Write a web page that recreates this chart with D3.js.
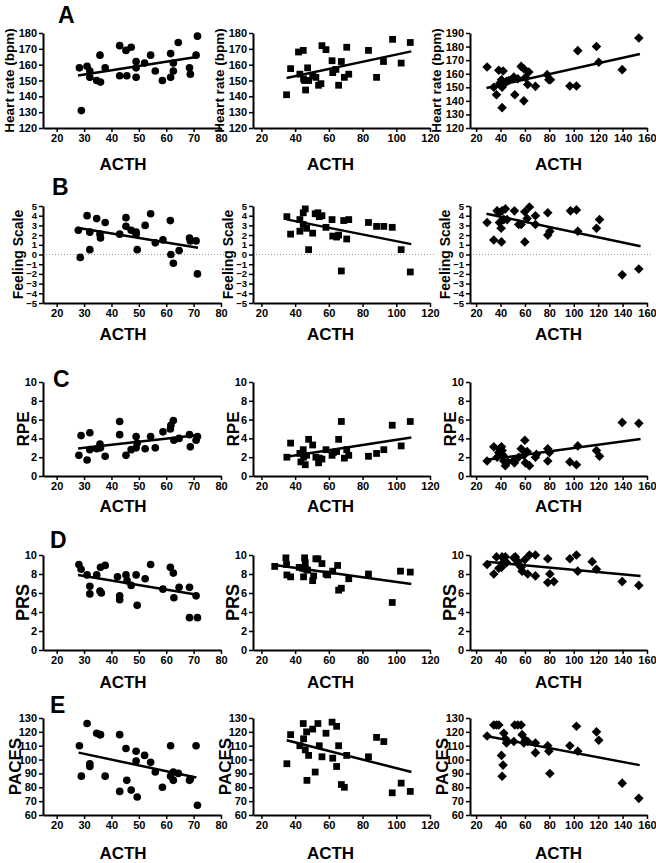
<!DOCTYPE html>
<html>
<head>
<meta charset="utf-8">
<script src="https://cdn.jsdelivr.net/npm/d3@7"></script>
<style>
body { margin: 0; background: #fff; }
text { font-family: "Liberation Sans", Arial, sans-serif; font-weight: bold; fill: #000; }
</style>
</head>
<body>
<svg id="chart" width="656" height="863"></svg>
<script>
// ---- data: [ACTH, value] per panel ----
const hrCircle = [[28.3,158],[29,131],[31.1,159],[32.1,156],[32.1,152],[34.6,150],[35.8,166],[36,149],[37.7,158],[43,172],[43,153],[45.3,169],[45.6,153],[47.2,171],[49,162],[49,158],[49,152],[52.1,161],[54.3,166],[56,156],[58.6,150],[61.6,167],[61.6,152],[62.6,161],[62.6,156],[64.4,174],[68.5,158],[68.8,154],[70.9,166],[71.4,178]];
const hrSquare = [[34.9,141],[37.3,157.5],[42,168],[42.8,154],[44.8,169],[45,151],[45.6,150],[46.2,144],[47.4,158],[48,150],[50.4,153],[52.3,152],[53.9,147],[55.3,148],[55.9,172],[58.3,169.5],[61.9,162.5],[62.3,155],[64.2,157],[65.8,147],[67.4,162],[69.2,152],[70.6,171],[71.8,154],[83.5,169],[88.3,152],[92.4,162],[97.8,176],[102.9,161],[108.3,174]];
const hrDiamond = [[29,165],[34.5,150],[36.7,144.5],[38.6,162.5],[39.4,153],[40.8,155.6],[41.3,135],[41.3,150],[42.1,162],[42.7,152],[44.9,154.4],[46.8,155],[51.7,144.5],[50.9,157.6],[54.2,156.3],[56.9,165.4],[59.1,163.7],[59.1,140],[60.4,157.3],[62.3,152],[63.2,161.3],[68.6,150.7],[78.2,159.3],[79.6,155.6],[80.9,155.6],[96.8,151],[102.2,151],[103.3,177],[118.6,180],[120.5,168.4],[139.7,163],[153.3,186.3]];

const fsCircle = [[27.9,2.5],[28.6,-0.3],[31.1,4],[32.1,2.3],[32.1,0.5],[34.6,3.7],[35.8,2.1],[36,1.7],[37.7,3.3],[43,2.1],[45.3,3.8],[45.3,2.9],[47.2,2.5],[49,2.3],[49,2.1],[49.4,0.5],[52.3,3],[54.3,4.2],[56,1.2],[58.8,1.5],[61.5,3.5],[61.7,0],[62.6,-0.9],[64.7,0.4],[68.5,1.7],[68.8,1.4],[70.9,1.4],[71.4,-2]];
const fsSquare = [[35.1,3.9],[37.3,2.1],[42.8,3.6],[42.8,2.4],[44.8,3.1],[44.8,4.3],[46,4.7],[46.8,2.7],[48,0.5],[50.4,2.2],[51.9,4.2],[53.5,4.3],[54.3,3.9],[55.9,4],[58.3,2.8],[61.9,3.6],[62.3,1.9],[64.6,1.8],[65.8,2],[67.4,-1.7],[68.8,3.5],[70.6,1.6],[71.8,3.6],[83.5,3.3],[88.3,2.9],[92.6,2.9],[97.6,2.8],[102.9,0.5],[108.3,-1.8]];
const fsDiamond = [[29,3.3],[34.5,1.5],[37.2,4.5],[38.6,4.3],[39.1,3.3],[40.5,2.7],[40.8,1.3],[41.3,4.5],[42.7,3.6],[44,4.7],[45.4,3.6],[51.4,4.5],[54.9,3.1],[56.9,3.1],[59.9,4.4],[59.9,1.3],[61.8,3.7],[63.7,4.9],[68.6,4],[68.6,3.1],[78.7,4.3],[78.7,2],[80.4,2.4],[97.3,4.5],[102.2,4.6],[103.3,2.4],[118.6,2.7],[121.1,3.6],[139.7,-2.1],[153.3,-1.5]];

const rpeCircle = [[28.1,2.2],[28.9,4.3],[31.1,1.7],[32.1,4.6],[32.1,2.8],[34.6,2.9],[35.8,3.4],[36,3],[37.7,2.1],[43,5.8],[43,4.4],[45.3,2.2],[47.2,2.8],[49,4.2],[49,3],[49.4,3.5],[52.3,2.9],[54.3,4.2],[56,3],[58.8,4.7],[61.5,5],[61.7,5.4],[62.6,5.9],[62.8,3.8],[64.7,4],[68.5,4.4],[68.8,3.1],[70.9,3.8],[71.4,4.2]];
const rpeSquare = [[35.1,2],[37.3,3.5],[42.8,2.4],[43.4,1.5],[44.8,2.8],[45,2],[46,1.2],[46.8,2.2],[48,3.9],[50.4,3.3],[52.3,2],[53.9,1.4],[54.3,1.9],[55.9,1.8],[58.3,2.8],[61.9,2.2],[62.7,2.5],[64.6,2.6],[65.8,3.9],[67.4,5.8],[69.2,1.9],[70.6,2.8],[71.8,2.2],[83.5,2.1],[88.3,2.4],[92.6,2.8],[97.6,5.4],[102.9,3.2],[108.3,5.8]];
const rpeDiamond = [[29,1.6],[34.5,3.1],[37.2,2],[38.6,2.5],[39.4,2.9],[40.8,3.1],[41.3,2.7],[42.1,2.2],[42.7,1.6],[44,1.1],[45.9,1.5],[50.3,1.6],[51.4,1.4],[54.9,2],[56.9,2.9],[59.1,2.2],[59.9,3.8],[60.4,1.4],[61.8,2.6],[63.7,1.1],[68.6,2],[69.4,2.3],[78.7,2.9],[78.7,1.6],[80.1,2.5],[96.8,1.5],[102.2,1.2],[103.3,3.2],[118.6,2.7],[121.1,2.1],[139.7,5.7],[153.3,5.6]];

const prsCircle = [[28.1,9],[28.9,8.5],[31.1,7.9],[32.1,6.7],[32.1,5.9],[34.6,7.9],[35.8,6.2],[36,8.7],[36.3,6],[37.7,8.9],[42.2,7.7],[43,5.7],[43,5.3],[45.3,7.9],[45.7,7.3],[47.2,6.8],[49,7.9],[49.4,4.7],[52.3,7.5],[54.3,9],[58.8,6.4],[61.5,8.7],[62.6,8.1],[62.8,5.5],[64.7,6.6],[68.5,6.6],[68.5,3.4],[70.9,5.7],[71.4,3.4]];
const prsSquare = [[27.9,8.8],[34.5,9.7],[34.9,9],[35.1,7.9],[37.3,7.7],[42.4,8.7],[44.4,8.6],[45,7.7],[45.6,9.7],[46,9.2],[46.4,8.5],[47.4,8.4],[50.4,7.3],[51,7.8],[52.3,9.6],[53.5,9.6],[55.9,9.1],[58.3,8],[59.3,7.9],[62.3,8.3],[65.2,8.9],[65.8,6.3],[67.4,6.5],[71.8,7.5],[83.5,8],[97.6,5],[102.5,8.3],[108.3,8.2]];
const prsDiamond = [[29,9],[34.5,8],[36.7,9.8],[38.6,8.6],[40.8,8.7],[41.3,9.8],[42.7,9.3],[44,9.8],[44.9,9.2],[50.9,9.7],[52.2,9.8],[54.2,9.3],[54.9,9],[56.9,8.7],[57.7,8.3],[59.9,9.5],[62.3,8],[63.7,10],[68.6,10],[68.6,7.8],[78.7,9.6],[78.7,7.1],[80.4,8],[83.7,7.2],[96.8,9.6],[102.2,10],[103.3,8.3],[115.1,9.3],[118.6,8.5],[139.7,7.2],[153.3,6.8]];

const pacesCircle = [[28.3,110],[29,88],[31.1,126],[32.1,95],[32.1,97],[34.6,119],[35.8,118],[36,118],[37.7,88],[43,118],[43,77],[45.3,108],[45.6,85],[47.2,78],[49,99],[49,106],[49.4,73],[52.1,103],[54.3,98],[56,91],[58.6,80],[61.6,110],[61.6,88],[62.6,85],[62.6,91],[64.4,90],[68.5,85],[68.8,86],[70.9,110],[71.4,67]];
const pacesSquare = [[35.1,97],[37.3,118],[42.8,110],[44.8,126],[45,115],[46,107],[46.8,120],[47,85],[48,103],[50.4,122],[51.9,91],[53.5,126],[54.3,110],[55.9,102],[58.3,119],[61.9,127],[62.3,101],[64.6,124],[64.6,95],[65.8,110],[67.4,82],[69.2,80],[70.6,103],[83.5,102],[88.3,116],[92.6,113],[97.6,76],[102.9,83],[108.3,77]];
const pacesDiamond = [[29,117],[34.5,125],[36.7,125],[38.6,125],[40.8,103],[41.3,88],[42.1,96],[42.7,119],[44,115],[44.9,112],[50.9,113],[51.7,125],[54.2,125],[56.9,125],[57.7,118],[59.1,112],[60.4,114],[62.3,113],[68.6,112],[68.6,105],[78.7,110],[79.6,106],[80.4,90],[96.8,110],[102.2,124],[103.3,106],[118.6,120],[120.5,114],[139.7,83],[153.3,72]];

// regression lines [x0, y0, x1, y1]
const hrFits = [[27.8,153.1,71,164.8],[34.9,151.6,108.9,168.4],[28.5,149.5,154.2,174.5]];
const fsFits = [[27.5,2.76,71.6,0.69],[34.9,3.62,108.9,1.07],[28.5,4.21,154.7,0.86]];
const rpeFits = [[27.8,2.93,71.9,4.35],[34.9,2.05,108.9,4.1],[28.5,1.72,154.7,3.93]];
const prsFits = [[27.8,7.89,71.9,5.79],[27.9,8.95,108.9,6.95],[28.5,9.3,154.7,7.79]];
const pacesFits = [[28,105,71,87],[35,114,109,91],[28,117,154,96]];

// axis ticks
const xTicks = [[20,30,40,50,60,70,80],[20,40,60,80,100,120],[20,40,60,80,100,120,140,160]];
const xMax = [80, 120, 160];
const hrTicks = [[120,130,140,150,160,170,180],[120,130,140,150,160,170,180],[120,130,140,150,160,170,180,190]];
const fsTicks = [-5,-4,-3,-2,-1,0,1,2,3,4,5];
const scaleTicks = [0,2,4,6,8,10];
const pacesTicks = [60,70,80,90,100,110,120,130];

const letters = ["A","B","C","D","E"];
const yTitles = ["Heart rate (bpm)","Feeling Scale","RPE","PRS","PACES"];

// ---- layout ----
const colX = [[43,221],[253,430],[470,647]];
const acthShift = [-9, -11, 0];
const rowY = [[33,128],[206,303],[382,476],[555,650],[718,815]];
const titleOffset = [34, 25, 20, 20, 28];
const titleSize = [13.5, 14, 17, 18, 17];
const tickSize = [11, 9.5, 11, 11, 11];
const acthGap = [42, 37, 36, 38, 44];
const letterPos = [[58,23],[52,195],[53,387],[50,548],[50,713]];

const rows = [
	{ sets: [hrCircle, hrSquare, hrDiamond], fits: hrFits, ticks: hrTicks },
	{ sets: [fsCircle, fsSquare, fsDiamond], fits: fsFits, ticks: [fsTicks, fsTicks, fsTicks], zero: true },
	{ sets: [rpeCircle, rpeSquare, rpeDiamond], fits: rpeFits, ticks: [scaleTicks, scaleTicks, scaleTicks] },
	{ sets: [prsCircle, prsSquare, prsDiamond], fits: prsFits, ticks: [scaleTicks, scaleTicks, scaleTicks] },
	{ sets: [pacesCircle, pacesSquare, pacesDiamond], fits: pacesFits, ticks: [pacesTicks, pacesTicks, pacesTicks] }
];

const symbols = [
	d3.symbol().type(d3.symbolCircle).size(46)(),
	d3.symbol().type(d3.symbolSquare).size(46)(),
	d3.symbol().type(d3.symbolSquare).size(46)()
];

const svg = d3.select("#chart");

rows.forEach((row, r) => {
	const [top, bottom] = rowY[r];

	svg.append("text")
		.attr("x", letterPos[r][0])
		.attr("y", letterPos[r][1])
		.style("font-size", "23px")
		.text(letters[r]);

	colX.forEach(([left, right], c) => {
		const yt = row.ticks[c];
		const x = d3.scaleLinear().domain([15, xMax[c]]).range([left, right]);
		const y = d3.scaleLinear().domain([yt[0], yt[yt.length - 1]]).range([bottom, top]);
		const g = svg.append("g");

		if (row.zero) {
			g.append("line")
				.attr("x1", left).attr("x2", right + 4)
				.attr("y1", y(0)).attr("y2", y(0))
				.attr("stroke", "#9a9a9a")
				.attr("stroke-width", 1)
				.attr("stroke-dasharray", "1,2");
		}

		const xAxis = g.append("g")
			.attr("transform", `translate(0,${bottom})`)
			.call(d3.axisBottom(x).tickValues(xTicks[c]).tickSize(4).tickSizeOuter(0).tickPadding(2));
		const yAxis = g.append("g")
			.attr("transform", `translate(${left},0)`)
			.call(d3.axisLeft(y).tickValues(yt).tickSize(4).tickSizeOuter(0).tickPadding(2));

		[xAxis, yAxis].forEach((ax, i) => {
			ax.select(".domain").attr("stroke", "#000").attr("stroke-width", 2);
			ax.selectAll(".tick line").attr("stroke", "#000").attr("stroke-width", 1.5);
			ax.selectAll(".tick text")
				.style("font-size", (i === 1 ? tickSize[r] : 11) + "px")
				.style("font-family", "'Liberation Sans', Arial, sans-serif")
				.style("font-weight", "bold")
				.attr("fill", "#000");
		});

		// axis titles
		g.append("text")
			.attr("text-anchor", "middle")
			.attr("x", (left + right) / 2 + acthShift[c])
			.attr("y", bottom + acthGap[r])
			.style("font-size", "17px")
			.text("ACTH");

		g.append("text")
			.attr("text-anchor", "middle")
			.attr("transform", `translate(${left - titleOffset[r]},${(top + bottom) / 2}) rotate(-90)`)
			.attr("dy", "0.35em")
			.style("font-size", titleSize[r] + "px")
			.text(yTitles[r]);

		// points
		g.append("g")
			.selectAll("path")
			.data(row.sets[c])
			.enter()
			.append("path")
				.attr("d", symbols[c])
				.attr("transform", (d) => `translate(${x(d[0])},${y(d[1])})${c === 2 ? " rotate(45)" : ""}`)
				.attr("fill", "#000");

		// regression line
		const f = row.fits[c];
		g.append("line")
			.attr("x1", x(f[0])).attr("y1", y(f[1]))
			.attr("x2", x(f[2])).attr("y2", y(f[3]))
			.attr("stroke", "#000")
			.attr("stroke-width", 2.5);
	});
});
</script>
</body>
</html>
